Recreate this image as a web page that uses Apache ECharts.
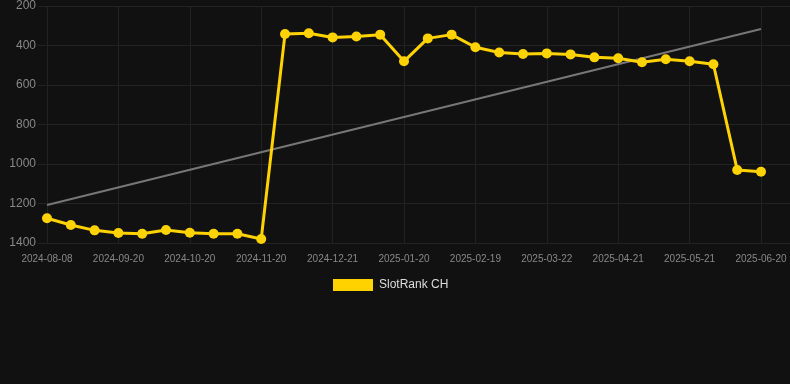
<!DOCTYPE html>
<html>
<head>
<meta charset="utf-8">
<style>
html,body{margin:0;padding:0;background:#111111;}
#chart{width:790px;height:384px;}
</style>
<script src="https://cdn.jsdelivr.net/npm/echarts@6/dist/echarts.min.js"></script>
</head>
<body>
<div id="chart"></div>
<script>
var categories = [
  '2024-08-08','2024-08-22','2024-09-05','2024-09-20','2024-09-30','2024-10-10',
  '2024-10-20','2024-10-30','2024-11-09','2024-11-20','2024-11-30','2024-12-10',
  '2024-12-21','2024-12-31','2025-01-10','2025-01-20','2025-01-30','2025-02-09',
  '2025-02-19','2025-03-01','2025-03-11','2025-03-22','2025-04-01','2025-04-11',
  '2025-04-21','2025-05-01','2025-05-11','2025-05-21','2025-05-31','2025-06-10',
  '2025-06-20'
];
var rankValues = [
  1275, 1309, 1336, 1349, 1353, 1334, 1348, 1353, 1353, 1380,
  342, 338, 359, 354, 345, 480, 364, 345, 409, 435,
  443, 440, 445, 460, 465, 485, 470, 480, 495, 1030,
  1039
];
var trendStart = 1208;
var trendEnd = 316;
var yTicks = [200, 400, 600, 800, 1000, 1200, 1400];
var seriesName = 'SlotRank CH';

var trendData = categories.map(function (c, i) {
  if (i === 0) return trendStart;
  if (i === categories.length - 1) return trendEnd;
  return null;
});

var chart = echarts.init(document.getElementById('chart'));
chart.setOption({
  backgroundColor: '#111111',
  animation: false,
  grid: [
    { left: 38, right: 0, top: 6, bottom: 141 },
    { left: 47, right: 29, top: 6, bottom: 141 }
  ],
  legend: {
    data: [seriesName],
    top: 274,
    left: 328,
    icon: 'rect',
    itemWidth: 40,
    itemHeight: 12,
    itemGap: 10,
    textStyle: { color: '#dddddd', fontSize: 12, padding: [0, 0, 0, 1], fontFamily: 'Liberation Sans, Arial, sans-serif' }
  },
  xAxis: [
    { gridIndex: 0, type: 'value', min: 0, max: 1, show: false },
    {
      gridIndex: 1,
      type: 'category',
      data: categories,
      boundaryGap: false,
      axisLine: { show: false },
      axisTick: { show: false },
      axisLabel: {
        interval: 2,
        color: '#888888',
        fontSize: 10,
        margin: 11,
        fontFamily: 'Liberation Sans, Arial, sans-serif'
      },
      splitLine: { show: true, interval: 2, lineStyle: { color: '#222222', width: 1 } }
    }
  ],
  yAxis: [
    {
      gridIndex: 0,
      type: 'value',
      inverse: true,
      min: yTicks[0],
      max: yTicks[yTicks.length - 1],
      interval: 200,
      axisLine: { show: false },
      axisTick: { show: false },
      axisLabel: {
        color: '#888888',
        fontSize: 12,
        margin: 2,
        formatter: function (v) { return String(v); },
        fontFamily: 'Liberation Sans, Arial, sans-serif'
      },
      splitLine: { show: true, lineStyle: { color: '#232323', width: 1 } }
    },
    {
      gridIndex: 1,
      type: 'value',
      inverse: true,
      min: yTicks[0],
      max: yTicks[yTicks.length - 1],
      interval: 200,
      show: false,
      splitLine: { show: false }
    }
  ],
  series: [
    {
      name: 'trend',
      type: 'line',
      xAxisIndex: 1,
      yAxisIndex: 1,
      data: trendData,
      connectNulls: true,
      showSymbol: false,
      symbol: 'none',
      lineStyle: { color: '#777777', width: 2 },
      z: 1,
      silent: true
    },
    {
      name: seriesName,
      type: 'line',
      xAxisIndex: 1,
      yAxisIndex: 1,
      data: rankValues,
      symbol: 'circle',
      symbolSize: 10,
      itemStyle: { color: '#FFD200' },
      lineStyle: { color: '#FFD200', width: 3 },
      z: 3
    }
  ]
});
</script>
</body>
</html>
